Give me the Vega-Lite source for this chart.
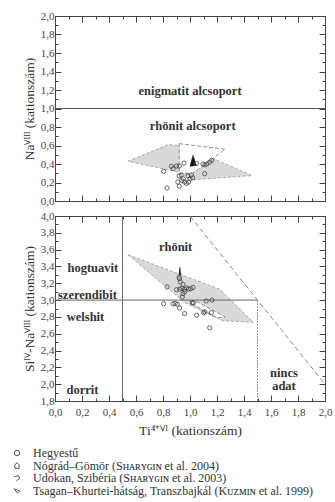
{
  "$schema": "https://vega.github.io/schema/vega-lite/v6.json",
  "background": "white",
  "padding": {"left": 10, "top": 9, "right": 0, "bottom": 0},
  "bounds": "flush",
  "spacing": 15,
  "config": {
    "font": "Liberation Serif",
    "view": {"stroke": "#444", "strokeWidth": 1},
    "axis": {
      "grid": false,
      "domainColor": "#444",
      "tickColor": "#444",
      "labelFont": "Liberation Serif",
      "labelFontSize": 11,
      "labelColor": "#444",
      "titleFont": "Liberation Serif",
      "titleFontWeight": "normal",
      "titleColor": "#333",
      "titleFontSize": 13.5,
      "labelOverlap": false,
      "labelFlush": false
    },
    "legend": {
      "labelFont": "Liberation Serif",
      "labelFontSize": 12,
      "labelColor": "#333",
      "rowPadding": 0.5,
      "labelLimit": 400
    }
  },
  "resolve": {"scale": {"shape": "independent"}, "legend": {"shape": "independent"}},
  "datasets": {
    "topGray": [
      {"i": 0, "x": 0.54, "y": 0.43},
      {"i": 1, "x": 0.84, "y": 0.61},
      {"i": 2, "x": 0.93, "y": 0.6},
      {"i": 3, "x": 1.17, "y": 0.46},
      {"i": 4, "x": 1.46, "y": 0.275},
      {"i": 5, "x": 1.03, "y": 0.23},
      {"i": 6, "x": 0.92, "y": 0.31},
      {"i": 7, "x": 0.54, "y": 0.43}
    ],
    "topWhite": [
      {"i": 0, "x": 0.92, "y": 0.62},
      {"i": 1, "x": 1.26, "y": 0.56},
      {"i": 2, "x": 1.17, "y": 0.46},
      {"i": 3, "x": 1.02, "y": 0.3},
      {"i": 4, "x": 0.92, "y": 0.3},
      {"i": 5, "x": 0.92, "y": 0.62}
    ],
    "topTri": [
      {"i": 0, "x": 1.0, "y": 0.375},
      {"i": 1, "x": 1.022, "y": 0.495},
      {"i": 2, "x": 1.047, "y": 0.385},
      {"i": 3, "x": 1.0, "y": 0.375}
    ],
    "topPts": [
      {"x": 0.805, "y": 0.32}, {"x": 0.83, "y": 0.14}, {"x": 0.862, "y": 0.375}, {"x": 0.875, "y": 0.35},
      {"x": 0.9, "y": 0.378}, {"x": 0.92, "y": 0.378}, {"x": 0.956, "y": 0.41}, {"x": 0.92, "y": 0.27},
      {"x": 0.935, "y": 0.28}, {"x": 0.91, "y": 0.205}, {"x": 0.92, "y": 0.16}, {"x": 0.95, "y": 0.24},
      {"x": 0.96, "y": 0.205}, {"x": 0.975, "y": 0.19}, {"x": 0.99, "y": 0.205}, {"x": 1.0, "y": 0.24},
      {"x": 1.01, "y": 0.28}, {"x": 1.02, "y": 0.25}, {"x": 0.94, "y": 0.22}, {"x": 0.985, "y": 0.27},
      {"x": 1.047, "y": 0.405}, {"x": 1.096, "y": 0.4}, {"x": 1.11, "y": 0.39}, {"x": 1.125, "y": 0.4},
      {"x": 1.146, "y": 0.42}, {"x": 1.16, "y": 0.44}, {"x": 1.109, "y": 0.295}
    ],
    "topText": [
      {"x": 1.0, "y": 1.19, "t": "enigmatit alcsoport"},
      {"x": 1.02, "y": 0.81, "t": "rhönit alcsoport"}
    ],
    "botGray": [
      {"i": 0, "x": 0.54, "y": 3.54},
      {"i": 1, "x": 1.22, "y": 3.13},
      {"i": 2, "x": 1.47, "y": 2.735},
      {"i": 3, "x": 1.24, "y": 2.755},
      {"i": 4, "x": 0.96, "y": 2.97},
      {"i": 5, "x": 0.54, "y": 3.54}
    ],
    "botWhite": [
      {"i": 0, "x": 1.0, "y": 2.985},
      {"i": 1, "x": 1.06, "y": 2.975},
      {"i": 2, "x": 1.26, "y": 2.8},
      {"i": 3, "x": 1.2, "y": 2.79},
      {"i": 4, "x": 1.02, "y": 2.95},
      {"i": 5, "x": 1.0, "y": 2.985}
    ],
    "botTri": [
      {"i": 0, "x": 0.918, "y": 3.3},
      {"i": 1, "x": 0.925, "y": 3.39},
      {"i": 2, "x": 0.932, "y": 3.3},
      {"i": 3, "x": 0.918, "y": 3.3}
    ],
    "botPts": [
      {"x": 0.83, "y": 3.156}, {"x": 0.9, "y": 3.124}, {"x": 0.923, "y": 3.254}, {"x": 0.92, "y": 3.27},
      {"x": 0.928, "y": 3.215}, {"x": 0.948, "y": 3.188}, {"x": 0.923, "y": 3.13}, {"x": 0.94, "y": 3.14},
      {"x": 0.96, "y": 3.13}, {"x": 0.975, "y": 3.145}, {"x": 0.99, "y": 3.13}, {"x": 1.005, "y": 3.135},
      {"x": 1.022, "y": 3.15}, {"x": 0.948, "y": 3.076}, {"x": 0.943, "y": 3.036}, {"x": 0.96, "y": 3.1},
      {"x": 0.805, "y": 2.957}, {"x": 0.874, "y": 2.955}, {"x": 0.89, "y": 2.96}, {"x": 0.906, "y": 2.95},
      {"x": 0.923, "y": 2.906}, {"x": 0.96, "y": 2.84}, {"x": 1.017, "y": 2.97}, {"x": 1.025, "y": 2.965},
      {"x": 1.05, "y": 2.82}, {"x": 1.1, "y": 2.85}, {"x": 1.11, "y": 2.86}, {"x": 1.12, "y": 2.99},
      {"x": 1.163, "y": 3.0}, {"x": 1.158, "y": 2.85}, {"x": 1.146, "y": 2.67}
    ],
    "botText": [
      {"x": 0.893, "y": 3.63, "t": "rhönit"},
      {"x": 0.28, "y": 3.385, "t": "hogtuavit"},
      {"x": 0.24, "y": 3.06, "t": "szerendibit"},
      {"x": 0.226, "y": 2.8, "t": "welshit"},
      {"x": 0.204, "y": 1.935, "t": "dorrit"},
      {"x": 1.696, "y": 2.137, "t": "nincs"},
      {"x": 1.696, "y": 1.975, "t": "adat"}
    ],
    "botLines": [
      {"k": "solid", "x": 0.5, "y": 1.8, "x2": 0.5, "y2": 4.0},
      {"k": "solid", "x": 0.0, "y": 3.0, "x2": 1.5, "y2": 3.0},
      {"k": "dot", "x": 1.5, "y": 1.8, "x2": 1.5, "y2": 3.0},
      {"k": "dash", "x": 1.0, "y": 4.0, "x2": 2.0, "y2": 2.0}
    ]
  },
  "vconcat": [
    {
      "width": 270,
      "height": 185,
      "layer": [
        {
          "data": {"name": "topGray"},
          "mark": {"type": "line", "fill": "#d9d9d9", "stroke": "#9a9a9a", "strokeWidth": 0.8, "strokeDash": [3, 2]},
          "encoding": {
            "x": {"field": "x", "type": "quantitative", "scale": {"domain": [0, 2], "nice": false, "zero": false},
              "axis": {"orient": "bottom", "values": [0,0.1,0.2,0.3,0.4,0.5,0.6,0.7,0.8,0.9,1,1.1,1.2,1.3,1.4,1.5,1.6,1.7,1.8,1.9,2],
                "labels": false, "title": null,
                "tickSize": {"condition": {"test": "round(datum.value*10)%2===0", "value": -6}, "value": -3}}},
            "y": {"field": "y", "type": "quantitative", "scale": {"domain": [0, 2], "nice": false, "zero": false},
              "axis": {"orient": "left", "values": [0,0.1,0.2,0.3,0.4,0.5,0.6,0.7,0.8,0.9,1,1.1,1.2,1.3,1.4,1.5,1.6,1.7,1.8,1.9,2],
                "labelExpr": "round(datum.value*10)%2===0 ? replace(format(datum.value,'.1f'),'.',',') : ''",
                "tickSize": {"condition": {"test": "round(datum.value*10)%2===0", "value": -6}, "value": -3},
                "labelPadding": 7,
                "title": "Naⱽᴵᴵᴵ (kationszám)", "titlePadding": 4}},
            "order": {"field": "i", "type": "quantitative"}
          }
        },
        {
          "data": {"name": "topWhite"},
          "mark": {"type": "line", "fill": "white", "stroke": "#777", "strokeWidth": 0.8, "strokeDash": [4, 2]},
          "encoding": {
            "x": {"field": "x", "type": "quantitative",
              "axis": {"orient": "top", "values": [0,0.1,0.2,0.3,0.4,0.5,0.6,0.7,0.8,0.9,1,1.1,1.2,1.3,1.4,1.5,1.6,1.7,1.8,1.9,2],
                "labels": false, "title": null, "domain": false,
                "tickSize": {"condition": {"test": "round(datum.value*10)%2===0", "value": -6}, "value": -3}}},
            "y": {"field": "y", "type": "quantitative",
              "axis": {"orient": "right", "values": [0,0.1,0.2,0.3,0.4,0.5,0.6,0.7,0.8,0.9,1,1.1,1.2,1.3,1.4,1.5,1.6,1.7,1.8,1.9,2],
                "labels": false, "title": null, "domain": false,
                "tickSize": {"condition": {"test": "round(datum.value*10)%2===0", "value": -6}, "value": -3}}},
            "order": {"field": "i", "type": "quantitative"}
          }
        },
        {
          "data": {"name": "topTri"},
          "mark": {"type": "line", "fill": "#111", "stroke": "#111", "strokeWidth": 0.5},
          "encoding": {
            "x": {"field": "x", "type": "quantitative", "axis": null},
            "y": {"field": "y", "type": "quantitative", "axis": null},
            "order": {"field": "i", "type": "quantitative"}
          }
        },
        {
          "data": {"values": [{"y": 1}]},
          "mark": {"type": "rule", "color": "#555", "strokeWidth": 1},
          "encoding": {"y": {"field": "y", "type": "quantitative", "axis": null}}
        },
        {
          "data": {"name": "topPts"},
          "transform": [{"calculate": "'Hegyestű'", "as": "grp"}],
          "mark": {"type": "point", "filled": false, "color": "#444", "size": 18, "strokeWidth": 0.8, "opacity": 1},
          "encoding": {
            "x": {"field": "x", "type": "quantitative", "axis": null},
            "y": {"field": "y", "type": "quantitative", "axis": null},
            "shape": {"field": "grp", "type": "nominal", "scale": {"domain": ["Hegyestű"], "range": ["circle"]}, "legend": null}
          }
        },
        {
          "data": {"name": "topText"},
          "mark": {"type": "text", "font": "Liberation Serif", "fontWeight": "bold", "fontSize": 12.5, "color": "#333", "baseline": "middle"},
          "encoding": {
            "x": {"field": "x", "type": "quantitative", "axis": null},
            "y": {"field": "y", "type": "quantitative", "axis": null},
            "text": {"field": "t"}
          }
        }
      ],
      "resolve": {"axis": {"x": "independent", "y": "independent"}}
    },
    {
      "width": 270,
      "height": 185,
      "layer": [
        {
          "data": {"name": "botGray"},
          "mark": {"type": "line", "fill": "#d9d9d9", "stroke": "#9a9a9a", "strokeWidth": 0.8, "strokeDash": [3, 2]},
          "encoding": {
            "x": {"field": "x", "type": "quantitative", "scale": {"domain": [0, 2], "nice": false, "zero": false},
              "axis": {"orient": "bottom", "values": [0,0.1,0.2,0.3,0.4,0.5,0.6,0.7,0.8,0.9,1,1.1,1.2,1.3,1.4,1.5,1.6,1.7,1.8,1.9,2],
                "labelExpr": "round(datum.value*10)%2===0 ? replace(format(datum.value,'.1f'),'.',',') : ''",
                "tickSize": {"condition": {"test": "round(datum.value*10)%2===0", "value": -6}, "value": -3},
                "labelPadding": 11,
                "title": "Ti⁴⁺ⱽᴵ (kationszám)", "titlePadding": 3}},
            "y": {"field": "y", "type": "quantitative", "scale": {"domain": [1.8, 4], "nice": false, "zero": false},
              "axis": {"orient": "left", "values": [1.8,1.9,2,2.1,2.2,2.3,2.4,2.5,2.6,2.7,2.8,2.9,3,3.1,3.2,3.3,3.4,3.5,3.6,3.7,3.8,3.9,4],
                "labelExpr": "round(datum.value*10)%2===0 ? replace(format(datum.value,'.1f'),'.',',') : ''",
                "tickSize": {"condition": {"test": "round(datum.value*10)%2===0", "value": -6}, "value": -3},
                "labelPadding": 7,
                "title": "Siᴵⱽ-Naⱽᴵᴵᴵ (kationszám)", "titlePadding": 4}},
            "order": {"field": "i", "type": "quantitative"}
          }
        },
        {
          "data": {"name": "botWhite"},
          "mark": {"type": "line", "fill": "white", "stroke": "#777", "strokeWidth": 0.8, "strokeDash": [4, 2]},
          "encoding": {
            "x": {"field": "x", "type": "quantitative",
              "axis": {"orient": "top", "values": [0,0.1,0.2,0.3,0.4,0.5,0.6,0.7,0.8,0.9,1,1.1,1.2,1.3,1.4,1.5,1.6,1.7,1.8,1.9,2],
                "labels": false, "title": null, "domain": false,
                "tickSize": {"condition": {"test": "round(datum.value*10)%2===0", "value": -6}, "value": -3}}},
            "y": {"field": "y", "type": "quantitative",
              "axis": {"orient": "right", "values": [1.8,1.9,2,2.1,2.2,2.3,2.4,2.5,2.6,2.7,2.8,2.9,3,3.1,3.2,3.3,3.4,3.5,3.6,3.7,3.8,3.9,4],
                "labels": false, "title": null, "domain": false,
                "tickSize": {"condition": {"test": "round(datum.value*10)%2===0", "value": -6}, "value": -3}}},
            "order": {"field": "i", "type": "quantitative"}
          }
        },
        {
          "data": {"name": "botTri"},
          "mark": {"type": "line", "fill": "#111", "stroke": "#111", "strokeWidth": 0.5},
          "encoding": {
            "x": {"field": "x", "type": "quantitative", "axis": null},
            "y": {"field": "y", "type": "quantitative", "axis": null},
            "order": {"field": "i", "type": "quantitative"}
          }
        },
        {
          "data": {"name": "botLines"},
          "transform": [{"filter": "datum.k === 'solid'"}],
          "mark": {"type": "rule", "color": "#666", "strokeWidth": 1},
          "encoding": {
            "x": {"field": "x", "type": "quantitative", "axis": null},
            "y": {"field": "y", "type": "quantitative", "axis": null},
            "x2": {"field": "x2"},
            "y2": {"field": "y2"}
          }
        },
        {
          "data": {"name": "botLines"},
          "transform": [{"filter": "datum.k === 'dot'"}],
          "mark": {"type": "rule", "color": "#999", "strokeWidth": 1, "strokeDash": [2, 1]},
          "encoding": {
            "x": {"field": "x", "type": "quantitative", "axis": null},
            "y": {"field": "y", "type": "quantitative", "axis": null},
            "x2": {"field": "x2"},
            "y2": {"field": "y2"}
          }
        },
        {
          "data": {"name": "botLines"},
          "transform": [{"filter": "datum.k === 'dash'"}],
          "mark": {"type": "rule", "color": "#888", "strokeWidth": 1, "strokeDash": [5, 3]},
          "encoding": {
            "x": {"field": "x", "type": "quantitative", "axis": null},
            "y": {"field": "y", "type": "quantitative", "axis": null},
            "x2": {"field": "x2"},
            "y2": {"field": "y2"}
          }
        },
        {
          "data": {"name": "botPts"},
          "transform": [{"calculate": "'Hegyestű'", "as": "grp"}],
          "mark": {"type": "point", "filled": false, "color": "#444", "size": 18, "strokeWidth": 0.8, "opacity": 1},
          "encoding": {
            "x": {"field": "x", "type": "quantitative", "axis": null},
            "y": {"field": "y", "type": "quantitative", "axis": null},
            "shape": {
              "field": "grp", "type": "nominal",
              "scale": {
                "domain": ["Hegyestű", "Nógrád–Gömör (Sʜᴀʀʏɢɪɴ et al. 2004)", "Udokan, Szibéria (Sʜᴀʀʏɢɪɴ et al. 2003)", "Tsagan–Khurtei-hátság, Transzbajkál (Kᴜᴢᴍɪɴ et al. 1999)"],
                "range": ["circle", "M-0.8,1L-0.8,-0.2L0,-1L0.8,-0.2L0.8,1Z", "M-1,-0.5L0.6,-0.8L1,0.2L-0.2,1", "M-1,-0.6L1,0.2L0.2,1Z"]
              },
              "legend": {
                "orient": "none", "legendX": -44, "legendY": 231, "title": null,
                "symbolSize": 30, "symbolStrokeWidth": 0.9, "symbolStrokeColor": "#444", "labelOffset": 10,
                "encode": {
                  "symbols": {
                    "update": {
                      "fill": {"signal": "indexof(datum.value, 'Tsagan') === 0 ? '#222' : 'transparent'"},
                      "strokeDash": {"signal": "indexof(datum.value, 'Udokan') === 0 ? [2,1] : []"}
                    }
                  }
                }
              }
            }
          }
        },
        {
          "data": {"name": "botText"},
          "mark": {"type": "text", "font": "Liberation Serif", "fontWeight": "bold", "fontSize": 12.5, "color": "#333", "baseline": "middle"},
          "encoding": {
            "x": {"field": "x", "type": "quantitative", "axis": null},
            "y": {"field": "y", "type": "quantitative", "axis": null},
            "text": {"field": "t"}
          }
        }
      ],
      "resolve": {"axis": {"x": "independent", "y": "independent"}}
    }
  ]
}
